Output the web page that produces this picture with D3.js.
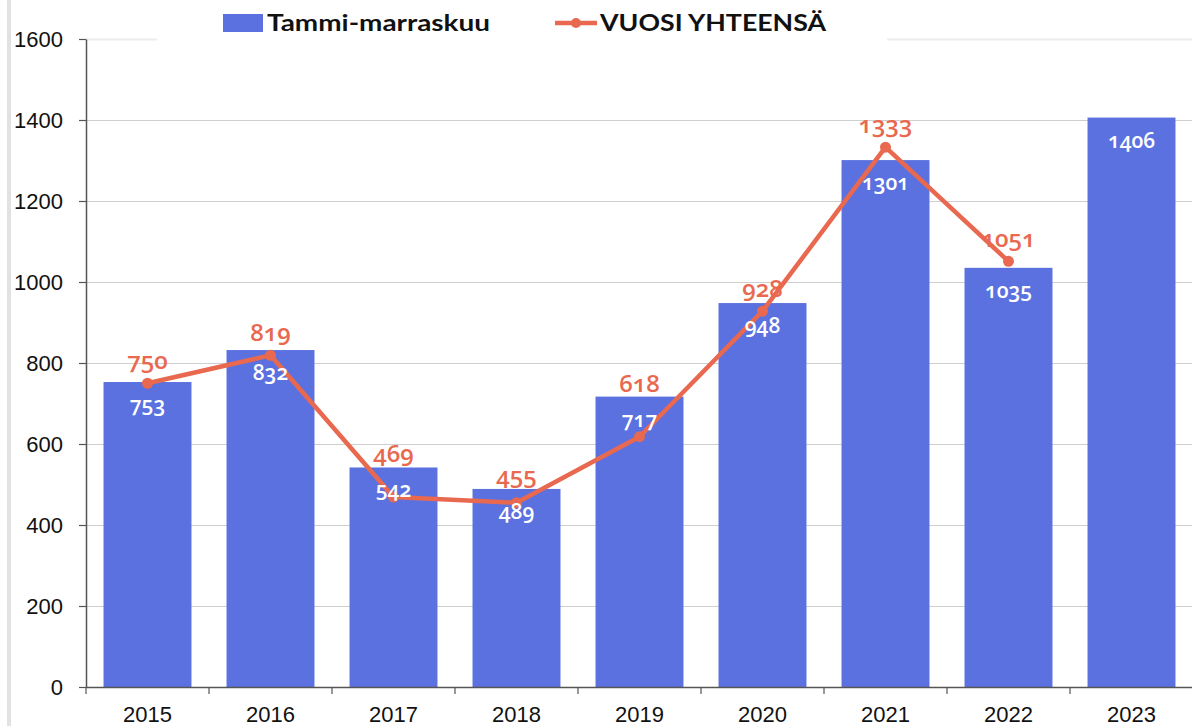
<!DOCTYPE html>
<html>
<head>
<meta charset="utf-8">
<script src="https://cdn.jsdelivr.net/npm/d3@7"></script>
<style>
  html, body { margin: 0; padding: 0; background: #fff; }
  svg { display: block; }
  .onum { font-family: "Open Sans", Lato, sans-serif; font-feature-settings: "onum" 1; font-variant-numeric: oldstyle-nums; }
</style>
</head>
<body>
<svg id="chart" width="1192" height="726"></svg>
<script>
const years = ["2015", "2016", "2017", "2018", "2019", "2020", "2021", "2022", "2023"];
const tammiMarraskuu = [753, 832, 542, 489, 717, 948, 1301, 1035, 1406];
const vuosiYhteensa = [750, 819, 469, 455, 618, 928, 1333, 1051, null];
const yTickValues = [0, 200, 400, 600, 800, 1000, 1200, 1400, 1600];
const seriesNames = ["Tammi-marraskuu", "VUOSI YHTEENSÄ"];

const barColor = "#5b71df";
const lineColor = "#e8694f";

const svg = d3.select("#chart");
const W = 1192, H = 726;
const mLeft = 86, mRight = 1193, mTop = 39, mBottom = 687;

// left light border
svg.append("rect").attr("x", 7).attr("y", 0).attr("width", 4).attr("height", H).attr("fill", "#e2e2e2");

const x = d3.scaleBand().domain(years).range([mLeft, mRight]).paddingInner(0.285).paddingOuter(0.1425);
const y = d3.scaleLinear().domain([0, 1600]).range([mBottom, mTop]);

// gridlines
svg.append("g").selectAll("line").data(yTickValues.filter(v => v > 0)).join("line")
  .attr("x1", mLeft).attr("x2", W)
  .attr("y1", d => y(d) + 0.5).attr("y2", d => y(d) + 0.5)
  .attr("stroke", d => d === 1600 ? "#ececec" : "#cfcfcf").attr("stroke-width", d => d === 1600 ? 2 : 1.2);

// bars
svg.append("g").selectAll("rect").data(years).join("rect")
  .attr("x", d => x(d)).attr("width", x.bandwidth())
  .attr("y", (d, i) => y(tammiMarraskuu[i]))
  .attr("height", (d, i) => y(0) - y(tammiMarraskuu[i]))
  .attr("fill", barColor);

// line
const pts = years.map((d, i) => ({ year: d, v: vuosiYhteensa[i], bar: tammiMarraskuu[i] }));
const line = d3.line().defined(d => d.v != null)
  .x(d => x(d.year) + x.bandwidth() / 2).y(d => y(d.v));
svg.append("path").datum(pts).attr("d", line)
  .attr("fill", "none").attr("stroke", lineColor).attr("stroke-width", 4.5).attr("stroke-linejoin", "round");
svg.append("g").selectAll("circle").data(pts.filter(d => d.v != null)).join("circle")
  .attr("cx", d => x(d.year) + x.bandwidth() / 2).attr("cy", d => y(d.v)).attr("r", 5.5)
  .attr("fill", lineColor);

// bar labels (drawn over the line)
svg.append("g").selectAll("text").data(years).join("text")
  .attr("class", "onum")
  .attr("x", d => x(d) + x.bandwidth() / 2)
  .attr("y", (d, i) => y(tammiMarraskuu[i]) + 30)
  .attr("text-anchor", "middle")
  .attr("font-size", 21)
  .attr("font-weight", 600)
  .attr("fill", "#ffffff")
  .text((d, i) => tammiMarraskuu[i]);

// line labels: above the point, and clear of the bar top
svg.append("g").selectAll("text").data(pts.filter(d => d.v != null)).join("text")
  .attr("class", "onum")
  .attr("x", d => x(d.year) + x.bandwidth() / 2)
  .attr("y", d => Math.min(y(d.v) - 14, y(d.bar) - 5))
  .attr("text-anchor", "middle")
  .attr("font-size", 24)
  .attr("font-weight", 600)
  .attr("fill", lineColor)
  .text(d => d.v);

// y axis
const yAxis = svg.append("g").attr("transform", `translate(${mLeft},0)`)
  .call(d3.axisLeft(y).tickValues(yTickValues).tickFormat(d3.format("d")).tickSize(7).tickPadding(16).tickSizeOuter(0));
yAxis.select(".domain").attr("stroke", "#555").attr("stroke-width", 1.5);
yAxis.selectAll(".tick line").attr("stroke", "#555").attr("stroke-width", 1.2);
yAxis.selectAll(".tick text").attr("font-family", "'Liberation Sans', Arial, sans-serif").attr("font-size", 22).attr("fill", "#111");

// x axis
const xAxis = svg.append("g").attr("transform", `translate(0,${mBottom})`)
  .call(d3.axisBottom(x).tickSize(0).tickPadding(19).tickSizeOuter(0));
xAxis.select(".domain").remove();
xAxis.selectAll(".tick text").attr("font-family", "'Liberation Sans', Arial, sans-serif").attr("font-size", 22).attr("fill", "#111");
svg.append("line").attr("x1", mLeft).attr("x2", W).attr("y1", mBottom + 0.5).attr("y2", mBottom + 0.5)
  .attr("stroke", "#555").attr("stroke-width", 1.5);
const boundaries = d3.range(years.length + 1).map(i => x.range()[0] + i * x.step());
svg.append("g").selectAll("line").data(boundaries).join("line")
  .attr("x1", d => d).attr("x2", d => d).attr("y1", mBottom).attr("y2", mBottom + 7)
  .attr("stroke", "#555").attr("stroke-width", 1.2);

// legend
const lg = svg.append("g");
lg.append("rect").attr("x", 157).attr("y", 0).attr("width", 730).attr("height", 46).attr("fill", "#fff");
lg.append("rect").attr("x", 223).attr("y", 14).attr("width", 40).attr("height", 18).attr("fill", barColor);
lg.append("text").attr("x", 267).attr("y", 31)
  .attr("font-family", "Lato, 'Open Sans', sans-serif").attr("font-weight", 700).attr("font-size", 23)
  .attr("fill", "#111").attr("textLength", 223).attr("lengthAdjust", "spacingAndGlyphs")
  .text(seriesNames[0]);
lg.append("line").attr("x1", 555).attr("x2", 597).attr("y1", 23).attr("y2", 23)
  .attr("stroke", lineColor).attr("stroke-width", 4.5);
lg.append("circle").attr("cx", 576).attr("cy", 23).attr("r", 5).attr("fill", lineColor);
lg.append("text").attr("x", 600).attr("y", 31)
  .attr("font-family", "Lato, 'Open Sans', sans-serif").attr("font-weight", 700).attr("font-size", 23)
  .attr("fill", "#111").attr("textLength", 226).attr("lengthAdjust", "spacingAndGlyphs")
  .text(seriesNames[1]);
</script>
</body>
</html>
